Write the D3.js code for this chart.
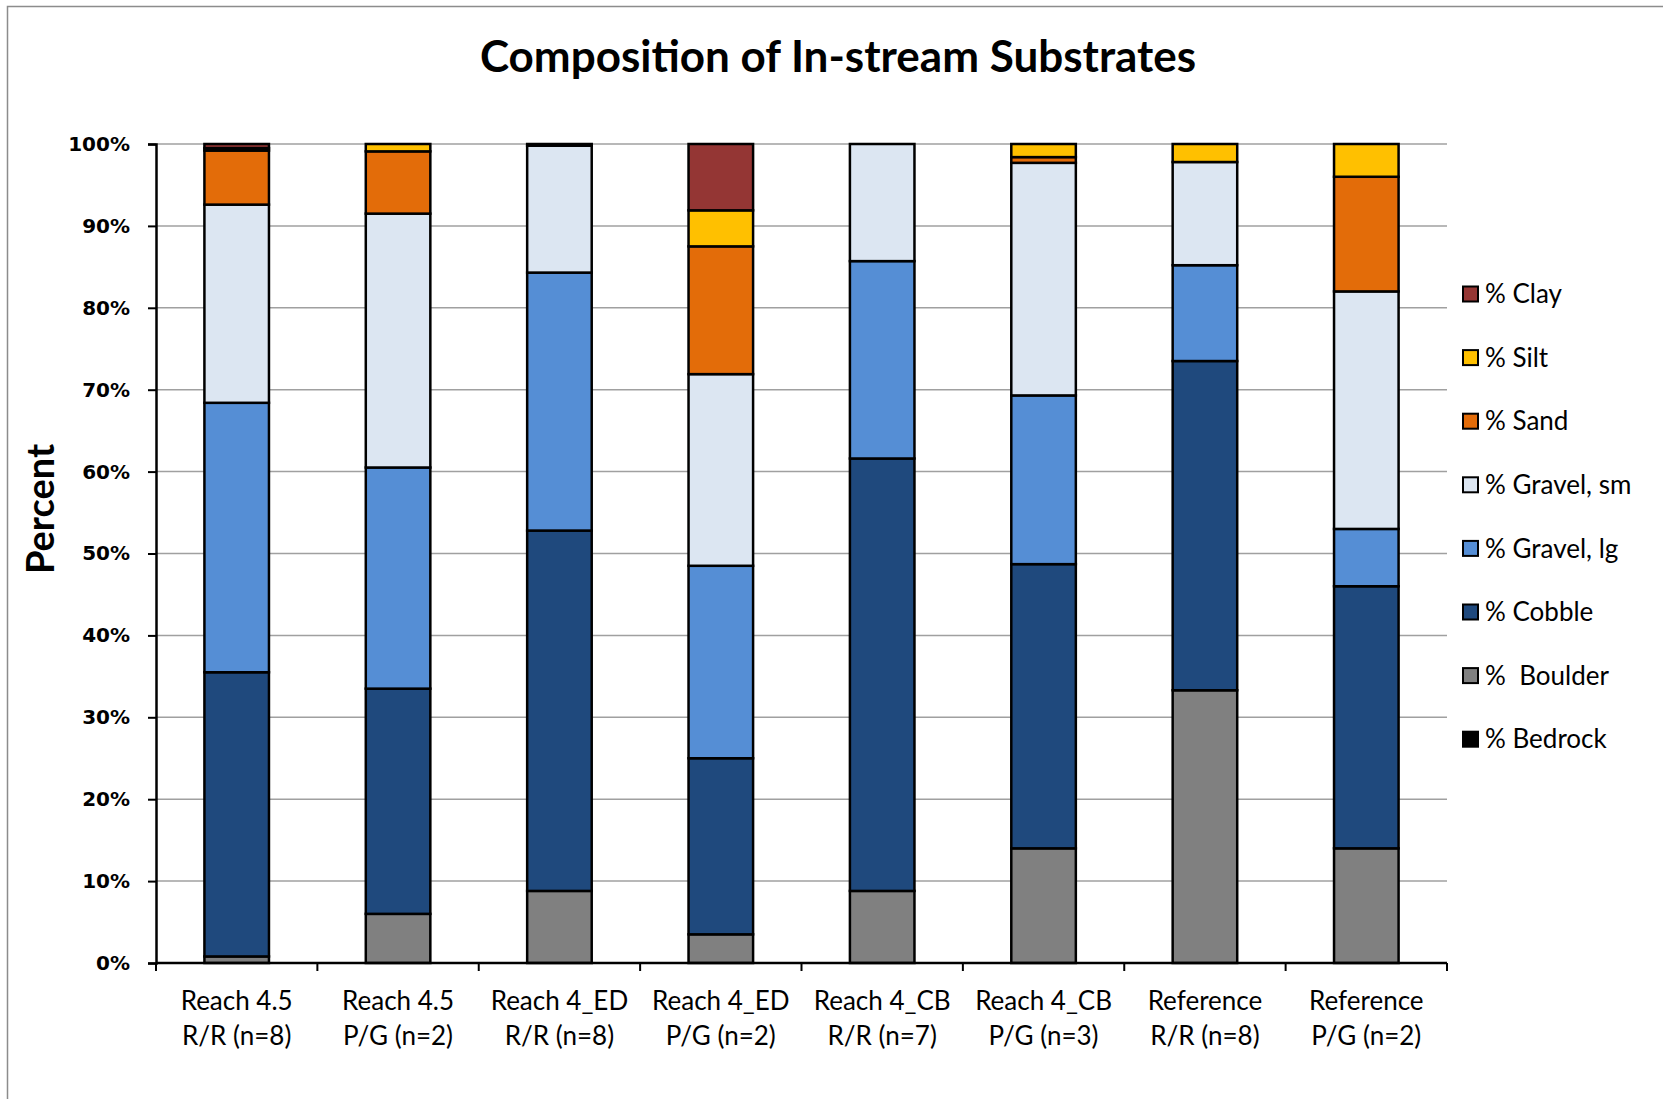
<!DOCTYPE html>
<html><head><meta charset="utf-8">
<script src="https://cdn.jsdelivr.net/npm/d3@7"></script>
<style>body{margin:0;background:#fff;} svg{display:block;}</style>
</head><body>
<svg id="chart" width="1663" height="1099"></svg>
<script>
const title = "Composition of In-stream Substrates";
const yTitle = "Percent";
const categories = [
  ["Reach 4.5","R/R (n=8)"],
  ["Reach 4.5","P/G (n=2)"],
  ["Reach 4_ED","R/R (n=8)"],
  ["Reach 4_ED","P/G (n=2)"],
  ["Reach 4_CB","R/R (n=7)"],
  ["Reach 4_CB","P/G (n=3)"],
  ["Reference","R/R (n=8)"],
  ["Reference","P/G (n=2)"]
];
// series, bottom to top
const seriesNames = ["% Bedrock","%  Boulder","% Cobble","% Gravel, lg","% Gravel, sm","% Sand","% Silt","% Clay"];
const bedrock  = [0,   0,    0,    0,    0,    0,    0,    0];
const boulder  = [0.8, 6.0,  8.8,  3.5,  8.8,  14.0, 33.3, 14.0];
const cobble   = [34.7,27.5, 44.0, 21.5, 52.8, 34.7, 40.2, 32.0];
const gravelLg = [32.9,27.0, 31.5, 23.5, 24.1, 20.6, 11.7, 7.0];
const gravelSm = [24.2,31.0, 15.5, 23.4, 14.3, 28.4, 12.6, 29.0];
const sand     = [6.6, 7.6,  0.2,  15.6, 0,    0.7,  0,    14.0];
const silt     = [0.3, 0.9,  0,    4.4,  0,    1.6,  2.2,  4.0];
const clay     = [0.5, 0,    0,    8.1,  0,    0,    0,    0];
const yTicks = [0,10,20,30,40,50,60,70,80,90,100];
const colors = ["#000000","#808080","#1F497D","#558ED5","#DCE6F2","#E36C09","#FFC000","#943634"];

(function(){
const seriesValues = [bedrock,boulder,cobble,gravelLg,gravelSm,sand,silt,clay];
const rows = categories.map((c,i)=>{
  const r = {key:i};
  seriesNames.forEach((s,j)=>{ r[s] = seriesValues[j][i]; });
  return r;
});

const svg = d3.select("#chart");
const calibri = "Lato, 'Open Sans', sans-serif";

svg.append("rect").attr("x",7.5).attr("y",6.5).attr("width",1700).attr("height",1200)
  .attr("fill","none").attr("stroke","#8c8c8c").attr("stroke-width",1.5);

const pL = 156, pR = 1447, pT = 144, pB = 963;
const x = d3.scaleBand().domain(d3.range(categories.length)).range([pL,pR]).paddingInner(0.6).paddingOuter(0.3);
const xOuter = d3.scaleBand().domain(d3.range(categories.length)).range([pL,pR]);
const y = d3.scaleLinear().domain([0,100]).range([pB,pT]);

svg.append("g").selectAll("line").data(yTicks.filter(t=>t>0)).join("line")
  .attr("x1",pL).attr("x2",pR).attr("y1",d=>y(d)).attr("y2",d=>y(d))
  .attr("stroke","#a0a0a0").attr("stroke-width",1.5);

const stack = d3.stack().keys(seriesNames)(rows);
svg.append("g").selectAll("g").data(stack).join("g")
  .attr("fill",(d,i)=>colors[i])
  .selectAll("rect").data(d=>d.filter(p=>p[1]-p[0]>0)).join("rect")
  .attr("x",d=>x(d.data.key)).attr("width",x.bandwidth())
  .attr("y",d=>y(d[1])).attr("height",d=>y(d[0])-y(d[1]))
  .attr("stroke","#000").attr("stroke-width",2.5);

const yAxis = d3.axisLeft(y).tickValues(yTicks).tickFormat(d=>d+"%").tickSize(8).tickPadding(18);
const gy = svg.append("g").attr("transform",`translate(${pL},0)`).call(yAxis);
gy.select(".domain").attr("stroke","#000").attr("stroke-width",2.5);
gy.selectAll(".tick line").attr("stroke","#000").attr("stroke-width",2);
gy.selectAll("text").attr("font-family","'DejaVu Sans', Verdana, sans-serif").attr("font-weight","bold")
  .attr("font-size",20).attr("fill","#000");

const gx = svg.append("g").attr("transform",`translate(0,${pB})`);
gx.append("line").attr("x1",pL).attr("x2",pR).attr("stroke","#000").attr("stroke-width",2.5);
gx.selectAll("line.t").data(d3.range(categories.length+1)).join("line").attr("class","t")
  .attr("x1",d=>pL+d*xOuter.step()).attr("x2",d=>pL+d*xOuter.step())
  .attr("y1",0).attr("y2",8).attr("stroke","#000").attr("stroke-width",2);
const xl = gx.selectAll("text").data(categories).join("text")
  .attr("text-anchor","middle").attr("font-family",calibri).attr("font-size",26).attr("fill","#000");
xl.append("tspan").attr("x",(d,i)=>xOuter(i)+xOuter.bandwidth()/2).attr("y",47).text(d=>d[0]);
xl.append("tspan").attr("x",(d,i)=>xOuter(i)+xOuter.bandwidth()/2).attr("y",82).text(d=>d[1]);

svg.append("text").attr("x",838).attr("y",72).attr("text-anchor","middle")
  .attr("font-family",calibri).attr("font-weight","bold").attr("font-size",44).text(title);

svg.append("text").attr("transform","translate(54,509) rotate(-90)").attr("text-anchor","middle")
  .attr("font-family",calibri).attr("font-weight","bold").attr("font-size",38).text(yTitle);

const legendOrder = d3.range(seriesNames.length).reverse();
const lg = svg.append("g").selectAll("g").data(legendOrder).join("g")
  .attr("transform",(d,i)=>`translate(1463,${294 + i*63.6})`);
lg.append("rect").attr("x",0).attr("y",-7.5).attr("width",15).attr("height",15)
  .attr("fill",d=>colors[d]).attr("stroke","#000").attr("stroke-width",2);
lg.append("text").attr("x",22).attr("y",0).attr("dy","0.35em")
  .attr("font-family",calibri).attr("font-size",26).attr("fill","#000")
  .style("white-space","pre").text(d=>seriesNames[d]);
})();
</script>
</body></html>
